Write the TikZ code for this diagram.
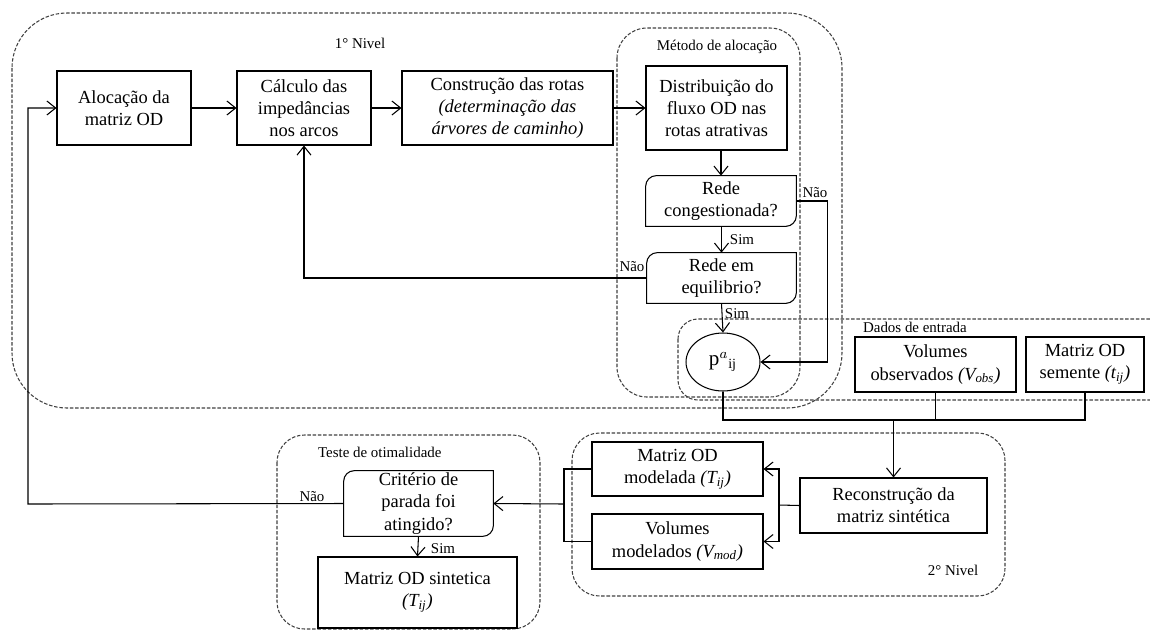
\documentclass[tikz,border=0pt]{standalone}
\usepackage{fontspec}
\setmainfont{Liberation Serif}
\usetikzlibrary{arrows.meta, positioning, shapes.geometric}

\begin{document}
\begin{tikzpicture}[x=0.02cm, y=-0.02cm,
            font=\fontsize{10.5}{12.7}\selectfont,
            caixa/.style={draw, line width=0.6pt, align=center, inner sep=1pt},
            decisao/.style={align=center, inner sep=1pt},
            grupo/.style={draw=black!75, line width=0.6pt, dash pattern=on 2pt off 1pt},
            rotulo/.style={font=\fontsize{8.5}{10}\selectfont, inner sep=1pt},
            seta/.style={-{Straight Barb[length=5pt,width=8pt]}, line width=0.6pt},
            linha/.style={line width=0.6pt}]
            \useasboundingbox (0,0) rectangle (1150,630);
            \clip (0,0) rectangle (1150,630);
            % grupos tracejados
            \draw[grupo, rounded corners=1.1cm] (12,13) rectangle (842,408);
            \draw[grupo, rounded corners=0.6cm] (617,28) rectangle (800,397);
            \draw[grupo, rounded corners=0.4cm] (678,319) rectangle (1180,400);
            \draw[grupo, rounded corners=0.55cm] (572,433) rectangle (1005,596);
            \draw[grupo, rounded corners=0.55cm] (277,435) rectangle (540,629);
            \node[rotulo] (rot1) at (360,43) {1° Nivel};
            \node[rotulo] (rotmet) at (717,47) {Método de alocação};
            \node[rotulo, anchor=west] (rotdados) at (861,327) {Dados de entrada};
            \node[rotulo] (rot2) at (953,570) {2° Nivel};
            \node[rotulo, anchor=west] (rotteste) at (316,452) {Teste de otimalidade};
            % 1o nivel
            \node[caixa, minimum width=2.68cm, minimum height=1.48cm] (aloc) at (124,108) {Alocação da\\ matriz OD};
            \node[caixa, minimum width=2.68cm, minimum height=1.48cm] (calc) at (304,108) {Cálculo das\\ impedâncias\\ nos arcos};
            \node[caixa, minimum width=4.22cm, minimum height=1.48cm] (rotas) at (507.5,108) {Construção das rotas\\ \textit{(determinação das}\\ \textit{árvores de caminho)}};
            \node[caixa, minimum width=2.82cm, minimum height=1.68cm] (distr) at (716.5,108) {Distribuição do\\ fluxo OD nas\\ rotas atrativas};
            \node[decisao, minimum width=3.0cm, minimum height=1.0cm] (cong) at (721,201) {Rede\\ congestionada?};
            \node[decisao, minimum width=2.98cm, minimum height=1.0cm] (equil) at (721.5,278) {Rede em\\ equilibrio?};
            \node[ellipse, draw, line width=0.6pt, minimum width=1.48cm, minimum height=1.16cm, inner sep=0pt, font=\fontsize{12}{14}\selectfont] (p) at (723,362) {p$^{a}{}_{\mathrm{ij}}$};
            % dados de entrada
            \node[caixa, minimum width=3.22cm, minimum height=1.1cm] (vobs) at (935.5,364.5) {Volumes\\ observados \textit{(V\textsubscript{obs})}};
            \node[caixa, minimum width=2.36cm, minimum height=1.1cm] (semente) at (1085,364.5) {Matriz OD\\ semente \textit{(t\textsubscript{ij})}};
            % 2o nivel
            \node[caixa, minimum width=3.74cm, minimum height=1.1cm] (recon) at (893.5,505.5) {Reconstrução da\\ matriz sintética};
            \node[caixa, minimum width=3.42cm, minimum height=1.08cm] (tmod) at (677.5,469) {Matriz OD\\ modelada \textit{(T\textsubscript{ij})}};
            \node[caixa, minimum width=3.42cm, minimum height=1.1cm] (vmod) at (677.5,541.5) {Volumes\\ modelados \textit{(V\textsubscript{mod})}};
            % teste
            \node[decisao, minimum width=2.98cm, minimum height=1.26cm] (crit) at (418.5,503.5) {Critério de\\ parada foi\\ atingido?};
            \node[caixa, minimum width=3.98cm, minimum height=1.42cm] (sint) at (417.5,592.5) {Matriz OD sintetica\\ \textit{(T\textsubscript{ij})}};
            % contorno das decisoes
            \foreach \n in {cong, equil, crit}
                \draw[linha] ([xshift=6pt]\n.north west) -- (\n.north east) -- ([yshift=6pt]\n.south east)
                    arc[start angle=0, end angle=-90, radius=6pt] -- (\n.south west) -- ([yshift=-6pt]\n.north west)
                    arc[start angle=180, end angle=90, radius=6pt];
            % ligacoes
            \coordinate (retorno) at (28,504);
            \coordinate (juncao) at (893.5,420);
            \coordinate (chave) at (779,505);
            \coordinate (colchete) at (564,504);
            \draw[seta] (aloc) -- (calc);
            \draw[seta] (calc) -- (rotas);
            \draw[seta] (rotas) -- (distr);
            \draw[seta] (distr.south -| cong.north) -- (cong.north);
            \draw[seta] (cong.south) -- (equil.south |- cong.south) -- (equil.north);
            \draw[seta] (equil.south) -- (p.north);
            \draw[seta] (cong.east) -- ++(31,0) |- (p.east);
            \draw[seta] (equil.west) -| (calc.south);
            \draw[linha] (p.south) |- (juncao);
            \draw[linha] (vobs.south) |- (juncao);
            \draw[linha] (semente.south) |- (juncao);
            \draw[seta] (juncao) -- (recon.north);
            \draw[linha] (recon.west) -- (chave);
            \draw[seta] (chave) |- (tmod.east);
            \draw[seta] (chave) |- (vmod.east);
            \draw[linha] (tmod.west) -| (colchete);
            \draw[linha] (vmod.west) -| (colchete);
            \draw[seta] (colchete) -- (crit.east);
            \draw[seta] (crit.south) -- (sint.north);
            \draw[seta] (crit.west) -- (retorno) |- (aloc.west);
            % rotulos sim / nao
            \node[rotulo] (nao1) at (815,193) {Não};
            \node[rotulo] (sim1) at (742,240) {Sim};
            \node[rotulo] (nao2) at (632,267) {Não};
            \node[rotulo] (sim2) at (737,314) {Sim};
            \node[rotulo] (nao3) at (312,497) {Não};
            \node[rotulo] (sim3) at (443,549) {Sim};
        \end{tikzpicture}
\end{document}
